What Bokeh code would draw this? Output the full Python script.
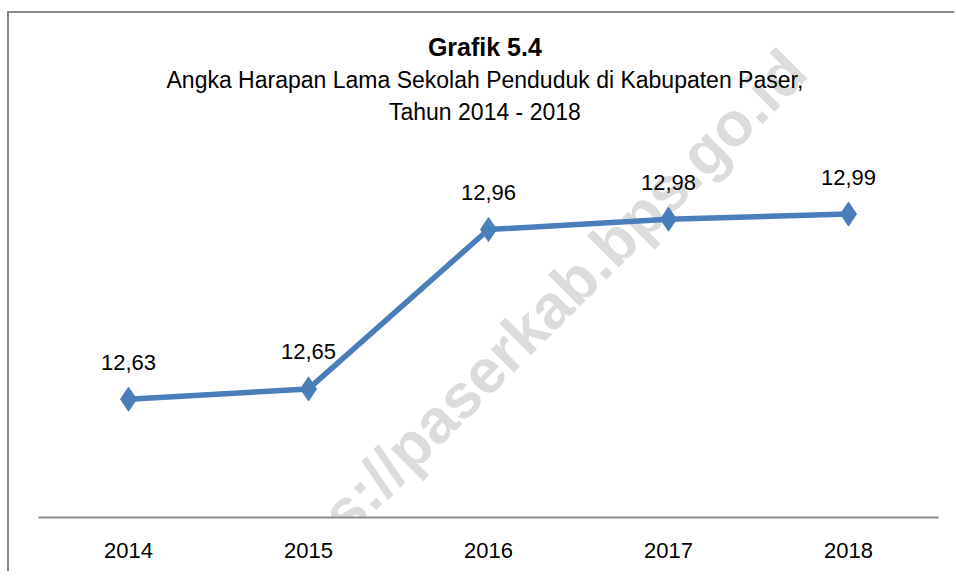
import math
from bokeh.plotting import figure
from bokeh.models import ColumnDataSource, FixedTicker, Label
from bokeh.core.properties import value
from bokeh.embed import file_html
from bokeh.resources import INLINE

years = [2014, 2015, 2016, 2017, 2018]
values = [12.63, 12.65, 12.96, 12.98, 12.99]
labels = [f"{v:.2f}".replace(".", ",") for v in values]

title_text = "Grafik 5.4"
subtitle_1 = "Angka Harapan Lama Sekolah Penduduk di Kabupaten Paser,"
subtitle_2 = "Tahun 2014 - 2018"
watermark = "https://paserkab.bps.go.id"

FONT = "'Liberation Sans Narrow', 'Arial Narrow', 'Liberation Sans', Arial, sans-serif"
WM_FONT = "'Liberation Sans', Arial, sans-serif"
BLUE = "#4a7ebb"

src = ColumnDataSource(dict(x=years, y=values, lab=labels))

p = figure(width=947, height=560, output_backend="svg", toolbar_location=None,
           x_range=(2013.5, 2018.5), y_range=(12.40, 13.380),
           min_border_left=29, min_border_right=18, min_border_top=0,
           min_border_bottom=56)
p.margin = (11, 0, 0, 7)
p.styles = {"border-left": "2px solid #888888", "border-top": "2px solid #888888"}
p.outline_line_color = None
p.grid.visible = False
p.yaxis.visible = False
p.background_fill_color = "white"
p.border_fill_color = "white"

ax = p.xaxis[0]
ax.ticker = FixedTicker(ticks=years)
ax.major_tick_line_color = None
ax.minor_tick_line_color = None
ax.axis_line_color = "#8c8c8c"
ax.axis_line_width = 2
ax.major_label_text_font = FONT
ax.major_label_text_font_size = "22px"
ax.major_label_text_color = "black"
ax.major_label_standoff = 19

# watermark (behind the data)
wm = Label(x=2016.189, y=12.758, text=watermark, angle=math.pi / 4,
           text_font=WM_FONT, text_font_size="62px", text_font_style="bold",
           text_color="#dcdcdc", text_align="center", text_baseline="middle",
           level="underlay")
p.add_layout(wm)

p.line("x", "y", source=src, line_color=BLUE, line_width=5.5)
p.scatter("x", "y", source=src, marker="diamond", size=24,
          fill_color=BLUE, line_color=BLUE)
p.text("x", "y", text="lab", source=src, y_offset=-37,
       text_align="center", text_baseline="middle",
       text_font=value(FONT), text_font_size="22px", text_color="black")

cx = 2015.98
p.add_layout(Label(x=cx, y=13.314, text=title_text, text_font=FONT,
                   text_font_size="25px", text_font_style="bold",
                   text_color="black", text_align="center",
                   text_baseline="middle"))
p.add_layout(Label(x=cx, y=13.250, text=subtitle_1, text_font=FONT,
                   text_font_size="23px", text_color="black",
                   text_align="center", text_baseline="middle"))
p.add_layout(Label(x=cx, y=13.188, text=subtitle_2, text_font=FONT,
                   text_font_size="23px", text_color="black",
                   text_align="center", text_baseline="middle"))

open("out.html", "w").write(file_html(p, INLINE))
